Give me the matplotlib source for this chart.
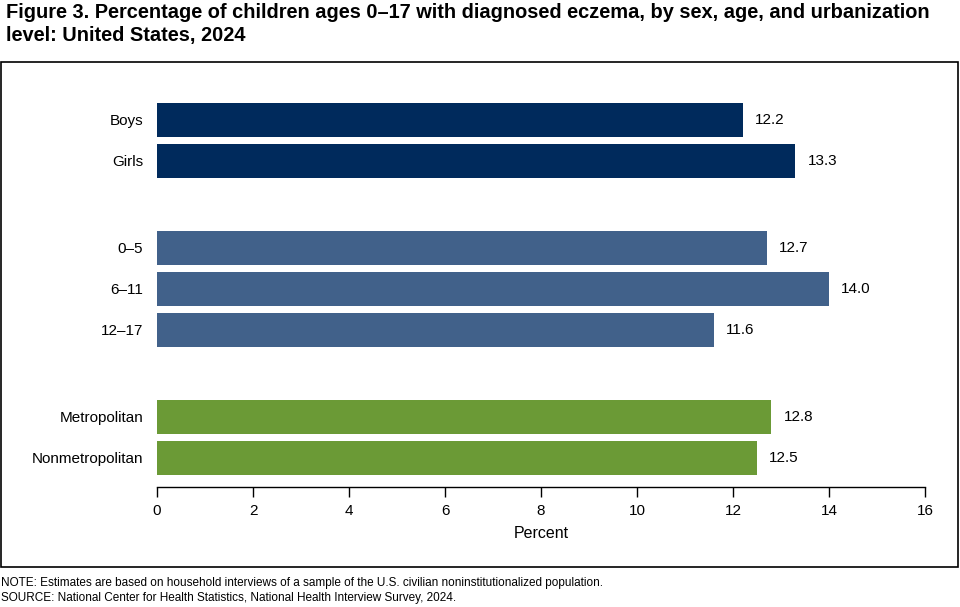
import matplotlib.pyplot as plt
from matplotlib.patches import Rectangle

plt.rcParams['font.family'] = ['Liberation Sans', 'DejaVu Sans']

labels = ['Boys', 'Girls', '0–5', '6–11', '12–17', 'Metropolitan', 'Nonmetropolitan']
values = [12.2, 13.3, 12.7, 14.0, 11.6, 12.8, 12.5]
groups = [0, 0, 1, 1, 1, 2, 2]
group_colors = ['#002a5c', '#41618a', '#6b9a36']
xticks = [0, 2, 4, 6, 8, 10, 12, 14, 16]

# bar slots, with wider gaps between groups
ypos = [0, 1, 3.12, 4.12, 5.12, 7.24, 8.24]

fig = plt.figure(figsize=(9.6, 6.07), dpi=100)
fig.patches.append(Rectangle((0.001, 1 - 567 / 607), 0.997, (567 - 62) / 607,
                             transform=fig.transFigure, fill=False,
                             edgecolor='black', linewidth=1.2))
fig.text(0.006, 0.995, 'Figure 3. Percentage of children ages 0–17 with diagnosed eczema, by sex, age, and urbanization\nlevel: United States, 2024',
         fontsize=14.4, fontweight='bold', va='top', ha='left', linespacing=1.25)

ax = fig.add_axes([157 / 960, 1 - 487 / 607, 768 / 960, (487 - 85) / 607])
ax.barh(ypos, values, height=0.83, color=[group_colors[g] for g in groups])
for y, v in zip(ypos, values):
    ax.text(v + 0.25, y, f'{v:.1f}', va='center', ha='left', fontsize=11)

ax.set_yticks(ypos)
ax.set_yticklabels(labels, fontsize=11)
ax.tick_params(axis='y', length=0, pad=10)
ax.set_ylim(8.24 + 0.71, -0.85)
ax.set_xlim(0, 16)
ax.set_xticks(xticks)
ax.set_xticklabels([str(t) for t in xticks], fontsize=11)
ax.tick_params(axis='x', direction='out', length=7, width=1, pad=5)
ax.set_xlabel('Percent', fontsize=11.5, labelpad=6)
for s in ['top', 'right', 'left']:
    ax.spines[s].set_visible(False)
ax.spines['bottom'].set_linewidth(1)

fig.text(0.001, 1 - 583 / 607, 'NOTE: Estimates are based on household interviews of a sample of the U.S. civilian noninstitutionalized population.',
         fontsize=8.5, va='center')
fig.text(0.001, 1 - 598 / 607, 'SOURCE: National Center for Health Statistics, National Health Interview Survey, 2024.',
         fontsize=8.5, va='center')

fig.savefig('out.png', dpi=100)
